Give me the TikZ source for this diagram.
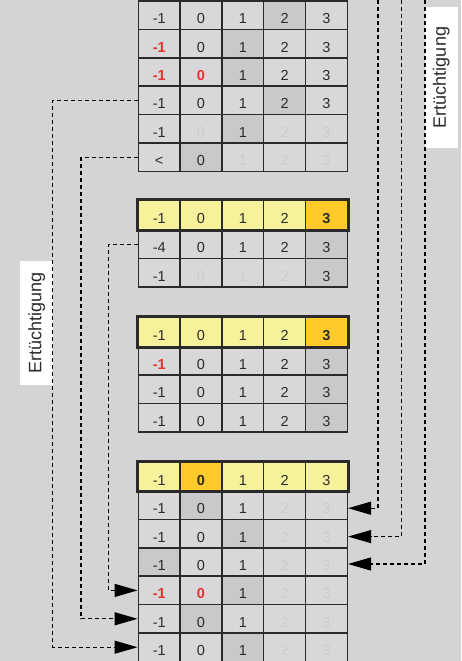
\documentclass[tikz,border=0pt]{standalone}
\usepackage{fontspec}
\setmainfont{Liberation Sans}
\usetikzlibrary{arrows.meta}
\definecolor{bg}{HTML}{D4D4D6}
\definecolor{cellbg}{HTML}{D8D8DA}
\definecolor{shade}{HTML}{C8C9CB}
\definecolor{faint}{HTML}{CDCDCF}
\definecolor{txt}{HTML}{2B2B2B}
\definecolor{redc}{HTML}{E8322B}
\definecolor{hyel}{HTML}{F6F29C}
\definecolor{horange}{HTML}{FFCA2A}
\definecolor{cellline}{HTML}{2A2A2A}
\newcommand\cellfont{\fontsize{14.5}{14.5}\selectfont}
\newcommand\trow[4]{%
  \foreach \s/\t [count=\i] in {#4} {
    \node[cell, kind/.expand once=\s, minimum height=#3pt] (#1c\i)
      at ({138.3+(\i-0.5)*41.8}, {#2+#3/2}) {\t};
  }}
\tikzset{
  cell/.style={draw=cellline, line width=1.5pt, minimum width=41.8pt, inner sep=0pt,
    text height=17pt, text depth=0pt, font=\cellfont, fill=cellbg, text=txt},
  kind/.style={c#1},
  cp/.style={},
  cr/.style={text=redc, font=\cellfont\bfseries},
  cs/.style={fill=shade},
  cf/.style={text=faint},
  cy/.style={fill=hyel},
  co/.style={fill=horange, font=\cellfont\bfseries},
  hbox/.style={draw=cellline, line width=3pt},
  lbl/.style={fill=white, rotate=90, inner sep=0pt, font=\fontsize{18}{18}\selectfont, text=txt},
  conn/.style={draw=black, line width=1.2pt, dash pattern=on 4pt off 3pt,
    -{Triangle[length=23pt,width=13pt]}},
}
\begin{document}
\begin{tikzpicture}[x=1pt,y=-1pt]
\useasboundingbox (0,0) rectangle (461,661);
\fill[bg] (0,0) rectangle (461,661);
% labels
\node[lbl, minimum width=140.4pt, minimum height=32.7pt] (lblR) at (441.3,77.5) {Ertüchtigung};
\node[lbl, minimum width=124pt, minimum height=33.3pt] (lblL) at (36.7,322.7) {Ertüchtigung};
% table 1
\trow{t1r1}{1}{28.4}{p/-1,p/0,p/1,s/2,p/3}
\trow{t1r2}{29.4}{28.4}{r/-1,p/0,s/1,p/2,p/3}
\trow{t1r3}{57.8}{28.4}{r/-1,r/0,s/1,p/2,p/3}
\trow{t1r4}{86.2}{28.4}{p/-1,p/0,p/1,s/2,p/3}
\trow{t1r5}{114.6}{28.4}{p/-1,f/0,s/1,f/2,f/3}
\trow{t1r6}{143}{28.4}{p/<,s/0,f/1,f/2,f/3}
% table 2
\trow{t2h}{200.7}{29.3}{y/-1,y/0,y/1,y/2,o/3}
\trow{t2r1}{230}{28.6}{p/-4,p/0,p/1,p/2,s/3}
\trow{t2r2}{258.6}{28.6}{p/-1,f/0,f/1,f/2,s/3}
\draw[hbox] (t2hc1.north west) rectangle (t2hc5.south east);
% table 3
\trow{t3h}{317.5}{29.2}{y/-1,y/0,y/1,y/2,o/3}
\trow{t3r1}{346.7}{28.4}{r/-1,p/0,p/1,p/2,s/3}
\trow{t3r2}{375.1}{28.4}{p/-1,p/0,p/1,p/2,s/3}
\trow{t3r3}{403.5}{28.4}{p/-1,p/0,p/1,p/2,s/3}
\draw[hbox] (t3hc1.north west) rectangle (t3hc5.south east);
% table 4
\trow{t4h}{462}{29}{y/-1,o/0,y/1,y/2,y/3}
\trow{t4r1}{491}{28.4}{p/-1,s/0,p/1,f/2,f/3}
\trow{t4r2}{519.4}{28.4}{p/-1,p/0,s/1,f/2,f/3}
\trow{t4r3}{547.8}{28.4}{s/-1,p/0,p/1,f/2,f/3}
\trow{t4r4}{576.2}{28.4}{r/-1,r/0,s/1,f/2,f/3}
\trow{t4r5}{604.6}{28.4}{p/-1,s/0,p/1,f/2,f/3}
\trow{t4r6}{633}{28.4}{p/-1,p/0,s/1,f/2,f/3}
\draw[hbox] (t4hc1.north west) rectangle (t4hc5.south east);
% connectors left
\draw[conn] (t1r4c1.west) -- ++(-85,0) |- (t4r6c1.west);
\draw[conn] (t1r6c1.west) -- ++(-56.6,0) |- (t4r5c1.west);
\draw[conn] (t2r1c1.west) -- ++(-29.3,0) |- (t4r4c1.west);
% connectors right
\coordinate (rtop1) at (378,0);
\coordinate (rtop2) at (401.7,0);
\coordinate (rtop3) at (425,0);
\draw[conn] (rtop1) |- ([yshift=-3pt]t4r1c5.east);
\draw[conn] (rtop2) |- ([yshift=-3pt]t4r2c5.east);
\draw[conn] (rtop3) |- ([yshift=-2pt]t4r3c5.east);
\end{tikzpicture}
\end{document}
